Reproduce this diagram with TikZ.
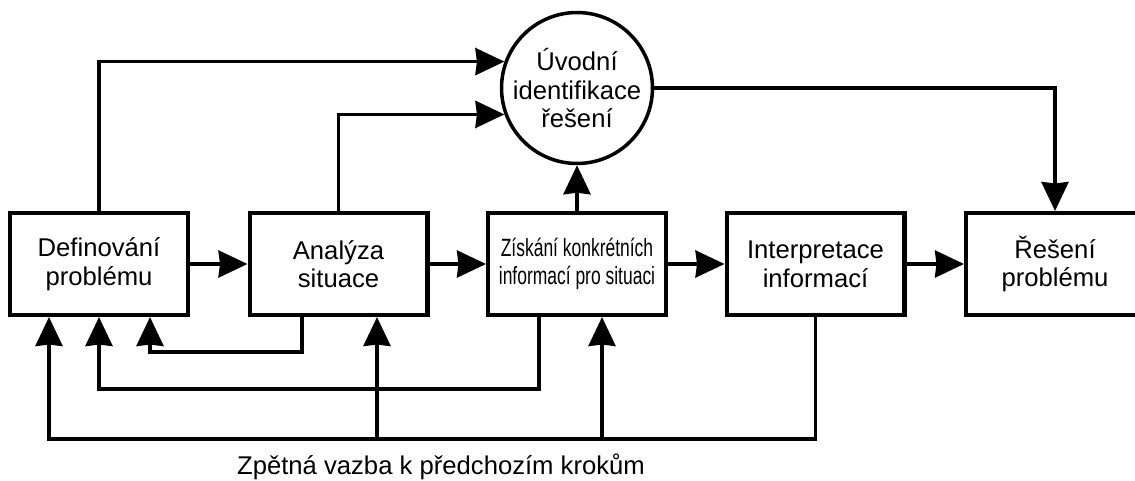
\documentclass[tikz,border=0pt]{standalone}
\usepackage{fontspec}
\setmainfont{Liberation Sans}
\newfontfamily\uzkepismo[FakeStretch=0.7]{Liberation Sans}
\usetikzlibrary{arrows.meta}
\tikzset{
    krok/.style={draw, line width=2.3pt, minimum width=3.56cm, minimum height=2.04cm,
        inner sep=0pt, align=center, font=\fontsize{14.6}{16.3}\selectfont},
    kruh/.style={draw, circle, line width=2pt, minimum size=3.02cm,
        inner sep=0pt, align=center, font=\fontsize{14.6}{16.3}\selectfont},
    sipka/.style={line width=2pt, -{Stealth[length=0.58cm, width=0.54cm, inset=0.03cm]}},
    vazba/.style={line width=2pt}
}

\begin{document}
\begin{tikzpicture}[x=0.02cm, y=-0.02cm]
    \useasboundingbox (0,0) rectangle (1135,480);

    % kroky
    \node[krok] (def) at (99,264) {Definování\\problému};
    \node[krok] (ana) at (338.5,264) {Analýza\\situace};
    \node[krok, font=\uzkepismo\fontsize{14.2}{16.3}\selectfont] (zis) at (577,264)
        {Získání konkrétních\\informací pro situaci};
    \node[krok] (int) at (815.5,264) {Interpretace\\informací};
    \node[krok] (res) at (1055,264) {Řešení\\problému};
    \node[kruh] (uvod) at (577,88) {Úvodní\\identifikace\\řešení};

    \draw[sipka] (def) -- (ana);
    \draw[sipka] (ana) -- (zis);
    \draw[sipka] (zis) -- (int);
    \draw[sipka] (int) -- (res);

    \draw[sipka] (def.north) |- (uvod.160);
    \draw[sipka] (ana.north) |- (uvod.200);
    \draw[sipka] (zis.north) -- (uvod.south);
    \draw[sipka] (uvod.east) -| (res.north);

    % zpetna vazba
    \coordinate (zpA) at (302,352);
    \coordinate (cilA) at (150,352);
    \coordinate (zpB) at (539,389);
    \coordinate (zpC) at (49,439);
    \coordinate (odbA) at (377,439);
    \coordinate (odbB) at (602,439);

    \draw[sipka] (ana.south -| zpA) -- (zpA) -- (cilA) -- (def.south -| cilA);
    \draw[sipka] (zis.south -| zpB) |- (def.south |- zpB) -- (def.south);
    \draw[sipka] (int.south) |- (zpC) -- (def.south -| zpC);
    \draw[sipka] (odbA) -- (ana.south -| odbA);
    \draw[sipka] (odbB) -- (zis.south -| odbB);

    \node[anchor=base, font=\fontsize{14.6}{16.3}\selectfont] (popis) at (441,474)
        {Zpětná vazba k předchozím krokům};
\end{tikzpicture}
\end{document}
